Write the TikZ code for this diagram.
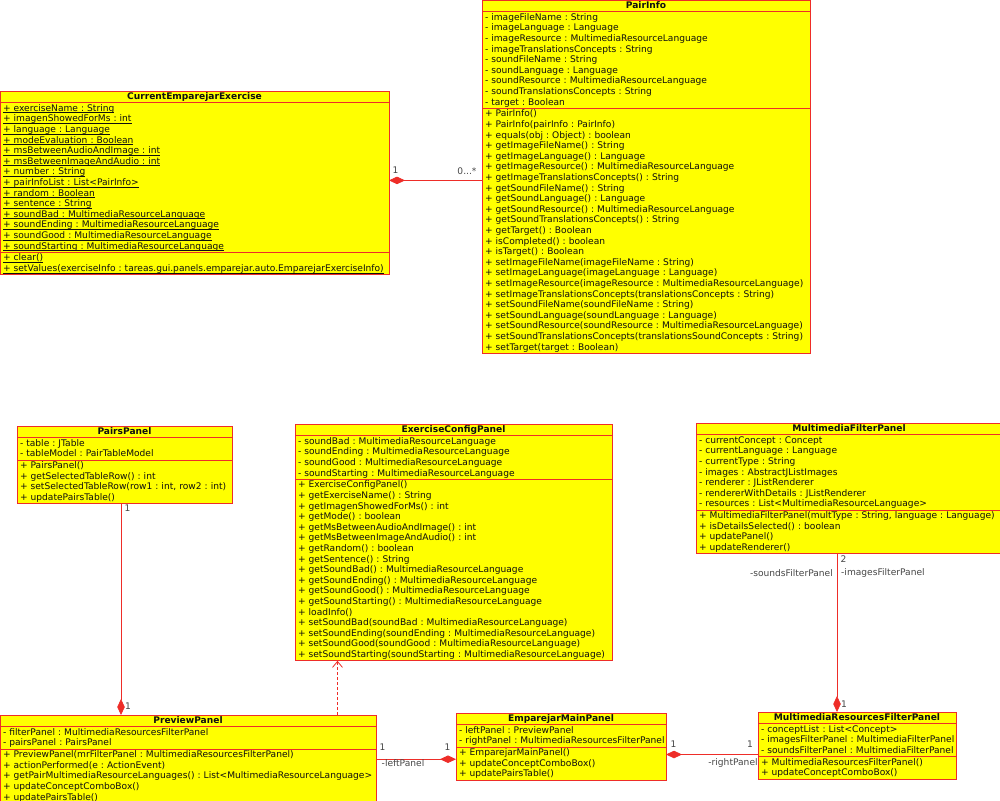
\documentclass[tikz,border=0pt]{standalone}
\usepackage{fontspec}
\setmainfont{DejaVu Sans}
\usetikzlibrary{shapes.multipart,arrows.meta}
\definecolor{umlyellow}{RGB}{255,255,0}
\definecolor{umlred}{RGB}{238,45,40}
\definecolor{umltext}{RGB}{15,15,15}
\definecolor{lbltext}{RGB}{70,70,70}
\setlength{\parindent}{0pt}
\setlength{\parskip}{0pt}
\frenchspacing
\newcommand\umlstrut{\rule[-2.7pt]{0pt}{10.6pt}}
\newcommand\ulx[1]{\leavevmode\setbox0\hbox{#1}\rlap{\rule[-1.7pt]{\wd0}{0.6pt}}\box0}
\newcommand\ttl[1]{\centering\umlstrut\textbf{#1}\umlstrut\par}
\newcommand\umlfont{\fontsize{9.1}{10.6}\selectfont\frenchspacing}
\tikzset{
  umlclass/.style={rectangle split, rectangle split parts=3, draw=umlred, fill=umlyellow,
    line width=0.8pt, inner xsep=3pt, inner ysep=0.2pt, outer sep=0pt, anchor=north west,
    font=\umlfont, text=umltext},
  assoc/.style={draw=umlred, line width=0.8pt},
  dep/.style={draw=umlred, line width=0.8pt, dashed, dash pattern=on 3pt off 2pt},
  compd/.tip={Diamond[length=16pt,width=7.5pt,fill=umlred]},
  lbl/.style={font=\umlfont, text=lbltext, inner sep=0pt}
}
\begin{document}
\begin{tikzpicture}[x=1pt,y=-1pt]
\useasboundingbox (0,0) rectangle (1000,800);
\fill[white] (0,0) rectangle (1000,800);

% CurrentEmparejarExercise
\node[umlclass, text width=383pt] (cee) at (0,91) {\ttl{CurrentEmparejarExercise}
\nodepart{second}\raggedright\umlstrut
\ulx{+ exerciseName : String}\\
\ulx{+ imagenShowedForMs : int}\\
\ulx{+ language : Language}\\
\ulx{+ modeEvaluation : Boolean}\\
\ulx{+ msBetweenAudioAndImage : int}\\
\ulx{+ msBetweenImageAndAudio : int}\\
\ulx{+ number : String}\\
\ulx{+ pairInfoList : List<PairInfo>}\\
\ulx{+ random : Boolean}\\
\ulx{+ sentence : String}\\
\ulx{+ soundBad : MultimediaResourceLanguage}\\
\ulx{+ soundEnding : MultimediaResourceLanguage}\\
\ulx{+ soundGood : MultimediaResourceLanguage}\\
\ulx{+ soundStarting : MultimediaResourceLanguage}\umlstrut\par
\nodepart{third}\raggedright\umlstrut
\ulx{+ clear()}\\
\ulx{+ setValues(exerciseInfo : tareas.gui.panels.emparejar.auto.EmparejarExerciseInfo)}\umlstrut\par};

% PairInfo
\node[umlclass, text width=322pt] (pairinfo) at (482,0) {\ttl{PairInfo}
\nodepart{second}\raggedright\umlstrut
- imageFileName : String\\
- imageLanguage : Language\\
- imageResource : MultimediaResourceLanguage\\
- imageTranslationsConcepts : String\\
- soundFileName : String\\
- soundLanguage : Language\\
- soundResource : MultimediaResourceLanguage\\
- soundTranslationsConcepts : String\\
- target : Boolean\umlstrut\par
\nodepart{third}\raggedright\umlstrut
+ PairInfo()\\
+ PairInfo(pairInfo : PairInfo)\\
+ equals(obj : Object) : boolean\\
+ getImageFileName() : String\\
+ getImageLanguage() : Language\\
+ getImageResource() : MultimediaResourceLanguage\\
+ getImageTranslationsConcepts() : String\\
+ getSoundFileName() : String\\
+ getSoundLanguage() : Language\\
+ getSoundResource() : MultimediaResourceLanguage\\
+ getSoundTranslationsConcepts() : String\\
+ getTarget() : Boolean\\
+ isCompleted() : boolean\\
+ isTarget() : Boolean\\
+ setImageFileName(imageFileName : String)\\
+ setImageLanguage(imageLanguage : Language)\\
+ setImageResource(imageResource : MultimediaResourceLanguage)\\
+ setImageTranslationsConcepts(translationsConcepts : String)\\
+ setSoundFileName(soundFileName : String)\\
+ setSoundLanguage(soundLanguage : Language)\\
+ setSoundResource(soundResource : MultimediaResourceLanguage)\\
\mbox{+ setSoundTranslationsConcepts(translationsSoundConcepts : String)}\\
+ setTarget(target : Boolean)\umlstrut\par};

% PairsPanel
\node[umlclass, text width=209pt] (pairs) at (17,426) {\ttl{PairsPanel}
\nodepart{second}\raggedright\umlstrut
- table : JTable\\
- tableModel : PairTableModel\umlstrut\par
\nodepart{third}\raggedright\umlstrut
+ PairsPanel()\\
+ getSelectedTableRow() : int\\
\mbox{+ setSelectedTableRow(row1 : int, row2 : int)}\\
+ updatePairsTable()\umlstrut\par};

% ExerciseConfigPanel
\node[umlclass, text width=311pt] (ecp) at (295,424) {\ttl{ExerciseConfigPanel}
\nodepart{second}\raggedright\umlstrut
- soundBad : MultimediaResourceLanguage\\
- soundEnding : MultimediaResourceLanguage\\
- soundGood : MultimediaResourceLanguage\\
- soundStarting : MultimediaResourceLanguage\umlstrut\par
\nodepart{third}\raggedright\umlstrut
+ ExerciseConfigPanel()\\
+ getExerciseName() : String\\
+ getImagenShowedForMs() : int\\
+ getMode() : boolean\\
+ getMsBetweenAudioAndImage() : int\\
+ getMsBetweenImageAndAudio() : int\\
+ getRandom() : boolean\\
+ getSentence() : String\\
+ getSoundBad() : MultimediaResourceLanguage\\
+ getSoundEnding() : MultimediaResourceLanguage\\
+ getSoundGood() : MultimediaResourceLanguage\\
+ getSoundStarting() : MultimediaResourceLanguage\\
+ loadInfo()\\
+ setSoundBad(soundBad : MultimediaResourceLanguage)\\
+ setSoundEnding(soundEnding : MultimediaResourceLanguage)\\
+ setSoundGood(soundGood : MultimediaResourceLanguage)\\
\mbox{+ setSoundStarting(soundStarting : MultimediaResourceLanguage)}\umlstrut\par};

% MultimediaFilterPanel
\node[umlclass, text width=300pt] (mfp) at (696,423) {\ttl{MultimediaFilterPanel}
\nodepart{second}\raggedright\umlstrut
- currentConcept : Concept\\
- currentLanguage : Language\\
- currentType : String\\
- images : AbstractJListImages\\
- renderer : JListRenderer\\
- rendererWithDetails : JListRenderer\\
- resources : List<MultimediaResourceLanguage>\umlstrut\par
\nodepart{third}\raggedright\umlstrut
\mbox{+ MultimediaFilterPanel(multType : String, language : Language)}\\
+ isDetailsSelected() : boolean\\
+ updatePanel()\\
+ updateRenderer()\umlstrut\par};

% PreviewPanel
\node[umlclass, text width=370pt] (preview) at (0,715) {\ttl{PreviewPanel}
\nodepart{second}\raggedright\umlstrut
- filterPanel : MultimediaResourcesFilterPanel\\
- pairsPanel : PairsPanel\umlstrut\par
\nodepart{third}\raggedright\umlstrut
+ PreviewPanel(mrFilterPanel : MultimediaResourcesFilterPanel)\\
+ actionPerformed(e : ActionEvent)\\
\mbox{+ getPairMultimediaResourceLanguages() : List<MultimediaResourceLanguage>}\\
+ updateConceptComboBox()\\
+ updatePairsTable()\umlstrut\par};

% EmparejarMainPanel
\node[umlclass, text width=204pt] (emp) at (456,713) {\ttl{EmparejarMainPanel}
\nodepart{second}\raggedright\umlstrut
- leftPanel : PreviewPanel\\
\mbox{- rightPanel : MultimediaResourcesFilterPanel}\umlstrut\par
\nodepart{third}\raggedright\umlstrut
+ EmparejarMainPanel()\\
+ updateConceptComboBox()\\
+ updatePairsTable()\umlstrut\par};

% MultimediaResourcesFilterPanel
\node[umlclass, text width=192pt] (mrfp) at (758,712) {\ttl{MultimediaResourcesFilterPanel}
\nodepart{second}\raggedright\umlstrut
- conceptList : List<Concept>\\
\mbox{- imagesFilterPanel : MultimediaFilterPanel}\\
\mbox{- soundsFilterPanel : MultimediaFilterPanel}\umlstrut\par
\nodepart{third}\raggedright\umlstrut
+ MultimediaResourcesFilterPanel()\\
+ updateConceptComboBox()\umlstrut\par};

% helper coordinates
\coordinate (ppx) at (121,0);
\coordinate (depx) at (337.5,0);
\coordinate (mfx) at (837,0);
\coordinate (emy) at (0,754.5);

% connectors
\draw[assoc, {compd}-] ([yshift=2.5pt]cee.east) -- ([yshift=2.5pt]cee.east -| pairinfo.west);
\draw[assoc, -{compd}] (pairs.south -| ppx) -- (preview.north -| ppx);
\draw[dep, -{Straight Barb[length=6pt,width=10pt,line width=0.8pt]}] (preview.north -| depx) -- (ecp.south -| depx);
\draw[assoc, -{compd}] (preview.east) -- (preview.east -| emp.west);
\draw[assoc, {compd}-] (emp.east |- emy) -- (mrfp.west |- emy);
\draw[assoc, -{compd}] (mfp.south -| mfx) -- (mrfp.north -| mfx);

% labels
\node[lbl] (l1) at (395.5,170) {1};
\node[lbl] (l2) at (467,171.5) {0...*};
\node[lbl] (l3) at (127.5,508) {1};
\node[lbl] (l4) at (128,706) {1};
\node[lbl] (l5) at (382.5,747.5) {1};
\node[lbl] (l6) at (447.5,747.5) {1};
\node[lbl] (l7) at (403,763.5) {-leftPanel};
\node[lbl] (l8) at (673.5,744.5) {1};
\node[lbl] (l9) at (750,744.5) {1};
\node[lbl] (l10) at (733,762.5) {-rightPanel};
\node[lbl] (l11) at (843.5,559.5) {2};
\node[lbl, anchor=east] (l12) at (833,573) {-soundsFilterPanel};
\node[lbl, anchor=west] (l13) at (841,573) {-imagesFilterPanel};
\node[lbl] (l14) at (844,704) {1};
\end{tikzpicture}
\end{document}
